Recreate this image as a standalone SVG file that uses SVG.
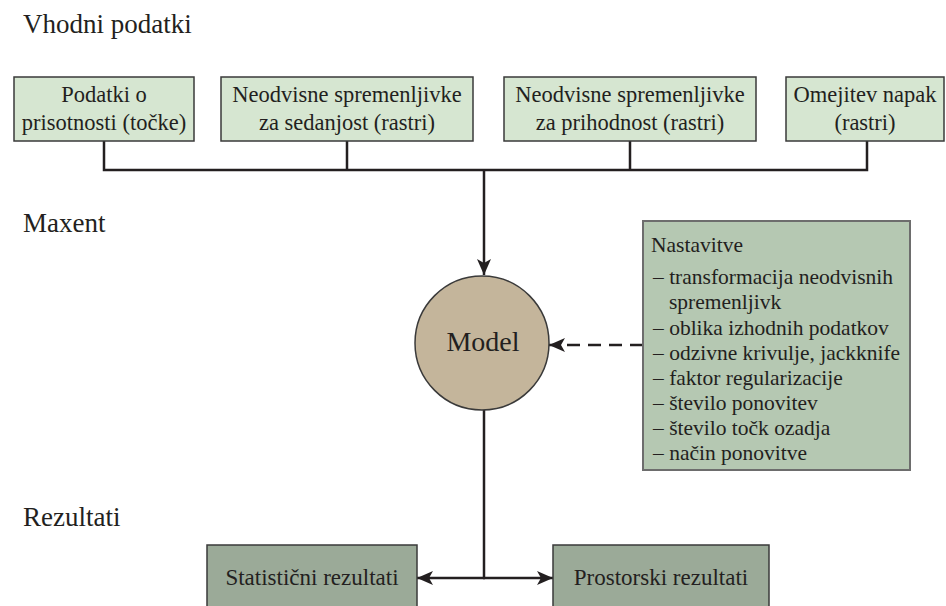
<svg xmlns="http://www.w3.org/2000/svg" width="946" height="606" viewBox="0 0 946 606" font-family="'Liberation Serif', 'DejaVu Serif', 'Times New Roman', serif">
<defs>
<style>
text{font-family:'Liberation Serif','DejaVu Serif','Times New Roman',serif;fill:#231f20}
.h{font-size:27px}
.t{font-size:22.5px;text-anchor:middle}
.s{font-size:21.5px}
.b{font-size:23px;text-anchor:middle}
.in{fill:#d6e6d1;stroke:#3a3a3a;stroke-width:1.5}
.set{fill:#b5c8b2;stroke:#6d6d6d;stroke-width:2}
.out{fill:#9baa98;stroke:#3a3a3a;stroke-width:1.5}
.ln{fill:none;stroke:#231f20;stroke-width:2.5}
</style>
<marker id="ah" markerUnits="userSpaceOnUse" viewBox="0 0 16 14" refX="16" refY="7" markerWidth="16" markerHeight="14" orient="auto">
<path d="M0,0 L16,7 L0,14 L4,7 z" fill="#231f20"/>
</marker>
</defs>
<g id="headings">
<text class="h" x="23" y="33">Vhodni podatki</text>
<text class="h" x="23" y="232">Maxent</text>
<text class="h" x="23" y="526">Rezultati</text>
</g>
<g id="connectors">
<path class="ln" d="M104,141 V170 H867 V141 M347,141 V170 M630,141 V170"/>
<path class="ln" d="M484,170 V275" marker-end="url(#ah)"/>
<path class="ln" d="M484,410 V578"/>
<path class="ln" d="M485,578 H417" marker-end="url(#ah)"/>
<path class="ln" d="M483,578 H553" marker-end="url(#ah)"/>
<path class="ln" d="M643,345 H549" stroke-dasharray="13 8" marker-end="url(#ah)"/>
</g>
<g id="in1">
<rect class="in" x="14" y="77" width="180" height="64"/>
<text class="t" x="104" y="102">Podatki o</text>
<text class="t" x="104" y="130">prisotnosti (točke)</text>
</g>
<g id="in2">
<rect class="in" x="221" y="77" width="252" height="64"/>
<text class="t" x="347" y="102">Neodvisne spremenljivke</text>
<text class="t" x="347" y="130">za sedanjost (rastri)</text>
</g>
<g id="in3">
<rect class="in" x="504" y="77" width="252" height="64"/>
<text class="t" x="630" y="102">Neodvisne spremenljivke</text>
<text class="t" x="630" y="130">za prihodnost (rastri)</text>
</g>
<g id="in4">
<rect class="in" x="786" y="77" width="158" height="64"/>
<text class="t" x="865" y="102">Omejitev napak</text>
<text class="t" x="865" y="130">(rastri)</text>
</g>
<g id="model">
<circle cx="482" cy="343" r="67" fill="#c4b59b" stroke="#3a3a3a" stroke-width="1.5"/>
<text x="483" y="351" font-size="28" text-anchor="middle">Model</text>
</g>
<g id="settings">
<rect class="set" x="643" y="221" width="267" height="249"/>
<text class="s" x="651" y="252">Nastavitve</text>
<text class="s" x="653" y="284">– transformacija neodvisnih</text>
<text class="s" x="669" y="309">spremenljivk</text>
<text class="s" x="653" y="335">– oblika izhodnih podatkov</text>
<text class="s" x="653" y="360">– odzivne krivulje, jackknife</text>
<text class="s" x="653" y="385">– faktor regularizacije</text>
<text class="s" x="653" y="410">– število ponovitev</text>
<text class="s" x="653" y="435">– število točk ozadja</text>
<text class="s" x="653" y="460">– način ponovitve</text>
</g>
<g id="out1">
<rect class="out" x="207" y="545" width="210" height="70"/>
<text class="b" x="312" y="585">Statistični rezultati</text>
</g>
<g id="out2">
<rect class="out" x="553" y="545" width="216" height="70"/>
<text class="b" x="661" y="585">Prostorski rezultati</text>
</g>
</svg>
